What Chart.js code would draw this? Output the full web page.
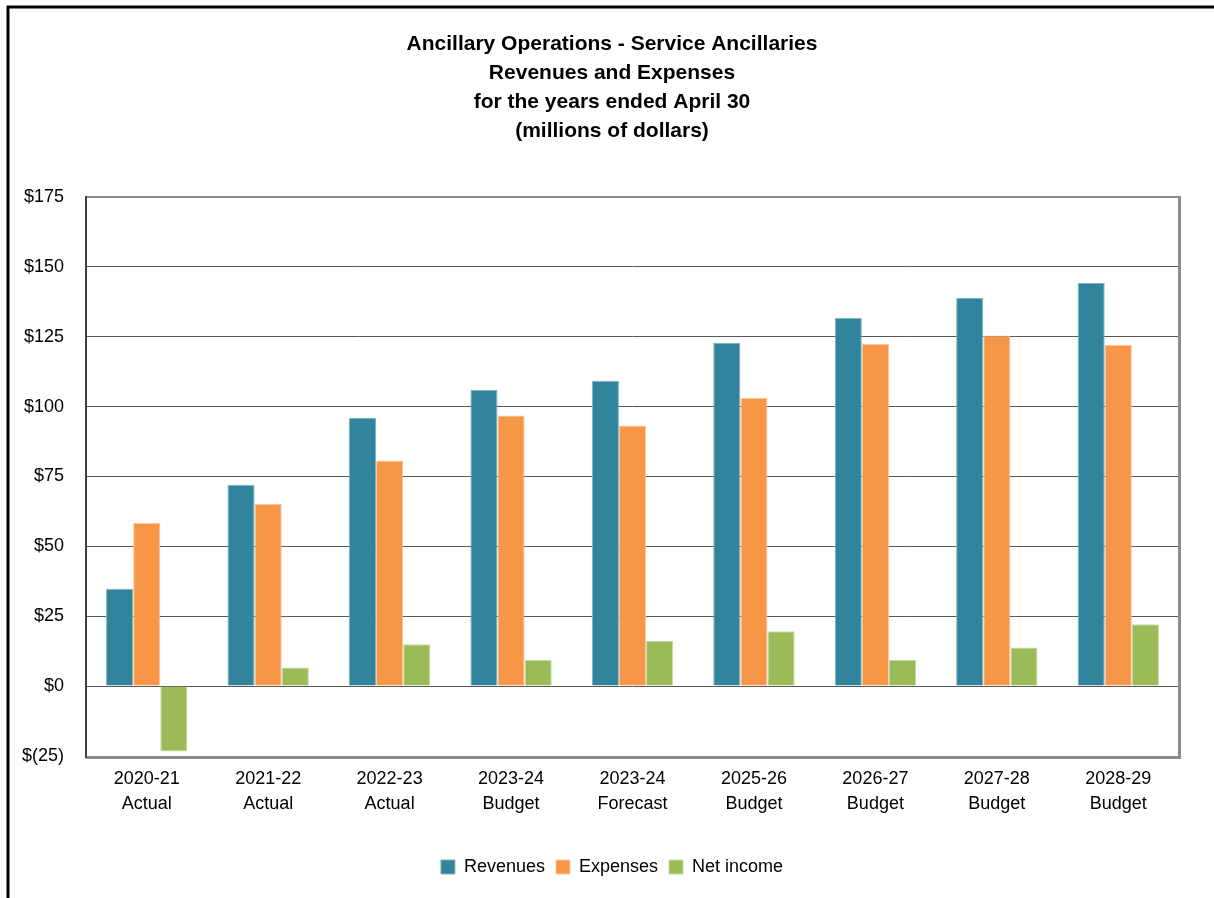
<!DOCTYPE html>
<html>
<head>
    <title>Ancillary Operations - Service Ancillaries</title>
    <script src="https://cdn.jsdelivr.net/npm/chart.js"></script>
    <style>
        body {
            margin: 0;
            background-color: #fff;
        }
        #wrap {
            position: relative;
            width: 1214px;
            height: 898px;
        }
    </style>
</head>
<body>

<div id="wrap">
    <canvas id="ancillaryChart" width="1214" height="898"></canvas>
</div>

<script>
    // categories (two-line tick labels)
    const years = ['2020-21', '2021-22', '2022-23', '2023-24', '2023-24', '2025-26', '2026-27', '2027-28', '2028-29'];
    const kinds = ['Actual', 'Actual', 'Actual', 'Budget', 'Forecast', 'Budget', 'Budget', 'Budget', 'Budget'];

    // series, millions of dollars
    const revenues = [34.8, 72.0, 96.0, 106.0, 109.2, 122.8, 131.8, 138.9, 144.2];
    const expenses = [58.4, 65.2, 80.7, 96.8, 93.2, 103.2, 122.5, 125.4, 122.1];
    const netIncome = [-23.4, 6.7, 15.0, 9.3, 16.1, 19.6, 9.3, 13.8, 22.1];

    const titleLines = [
        'Ancillary Operations - Service Ancillaries',
        'Revenues and Expenses',
        'for the years ended April 30',
        '(millions of dollars)'
    ];

    const FONT = '"Liberation Sans", Arial, sans-serif';

    // black frame on the left and top edges, like the clipped original
    const framePlugin = {
        id: 'frame',
        beforeDraw(chart) {
            const ctx = chart.ctx;
            ctx.save();
            ctx.fillStyle = '#fff';
            ctx.fillRect(0, 0, chart.width, chart.height);
            ctx.strokeStyle = '#000';
            ctx.lineWidth = 3;
            ctx.beginPath();
            ctx.moveTo(8, chart.height);
            ctx.lineTo(8, 7);
            ctx.lineTo(chart.width, 7);
            ctx.stroke();
            ctx.restore();
        },
        afterDatasetsDraw(chart) {
            // plot area box: grey top/right, heavier grey right and bottom
            const a = chart.chartArea;
            const ctx = chart.ctx;
            ctx.save();
            ctx.strokeStyle = '#8c8c8c';
            ctx.lineWidth = 2;
            ctx.beginPath();
            ctx.moveTo(a.left, a.top);
            ctx.lineTo(a.right, a.top);
            ctx.stroke();
            ctx.lineWidth = 3;
            ctx.beginPath();
            ctx.moveTo(a.right + 0.5, a.top - 1);
            ctx.lineTo(a.right + 0.5, a.bottom + 1.5);
            ctx.lineTo(a.left, a.bottom + 1.5);
            ctx.stroke();
            ctx.strokeStyle = '#404040';
            ctx.lineWidth = 2;
            ctx.beginPath();
            ctx.moveTo(a.left, a.top - 1);
            ctx.lineTo(a.left, a.bottom + 2);
            ctx.stroke();
            ctx.restore();
        }
    };

    const ctx = document.getElementById('ancillaryChart').getContext('2d');
    const ancillaryChart = new Chart(ctx, {
        type: 'bar',
        data: {
            labels: years.map((y, i) => [y, kinds[i]]),
            datasets: [
                { label: 'Revenues', data: revenues, backgroundColor: '#31849B', borderColor: '#7fb3c2', borderWidth: 1 },
                { label: 'Expenses', data: expenses, backgroundColor: '#F79646', borderColor: '#fbc79e', borderWidth: 1 },
                { label: 'Net income', data: netIncome, backgroundColor: '#9BBB59', borderColor: '#c6dba0', borderWidth: 1 }
            ]
        },
        options: {
            responsive: false,
            animation: false,
            layout: {
                padding: { left: 10, right: 0, top: 0, bottom: 12 }
            },
            datasets: {
                bar: { categoryPercentage: 0.67, barPercentage: 1.0 }
            },
            scales: {
                x: {
                    grid: { display: false, drawTicks: false },
                    border: { display: false },
                    ticks: {
                        color: '#000',
                        font: { family: FONT, size: 18, lineHeight: 1.4 },
                        padding: 10,
                        maxRotation: 0,
                        autoSkip: false
                    },
                    afterFit(scale) { scale.height = 91; }
                },
                y: {
                    min: -25,
                    max: 175,
                    grid: { color: '#595959', lineWidth: 1, drawTicks: false },
                    border: { display: false },
                    ticks: {
                        stepSize: 25,
                        color: '#000',
                        font: { family: FONT, size: 18 },
                        padding: 22,
                        callback: v => v < 0 ? '$(' + (-v) + ')' : '$' + v
                    },
                    afterFit(scale) { scale.width = 76; }
                },
                // empty right-hand axis, only reserves the margin right of the plot
                yRight: {
                    position: 'right',
                    min: -25,
                    max: 175,
                    grid: { drawOnChartArea: false, drawTicks: false },
                    border: { display: false },
                    ticks: { display: false },
                    afterFit(scale) { scale.width = 35; }
                }
            },
            plugins: {
                title: {
                    display: true,
                    text: titleLines,
                    color: '#000',
                    font: { family: FONT, size: 21, weight: 'bold', lineHeight: 1.38 },
                    padding: { top: 30, bottom: 51 }
                },
                legend: {
                    position: 'bottom',
                    labels: {
                        color: '#000',
                        font: { family: FONT, size: 18 },
                        boxWidth: 14,
                        boxHeight: 14,
                        padding: 11
                    }
                },
                tooltip: { enabled: false }
            }
        },
        plugins: [framePlugin]
    });
</script>

</body>
</html>
